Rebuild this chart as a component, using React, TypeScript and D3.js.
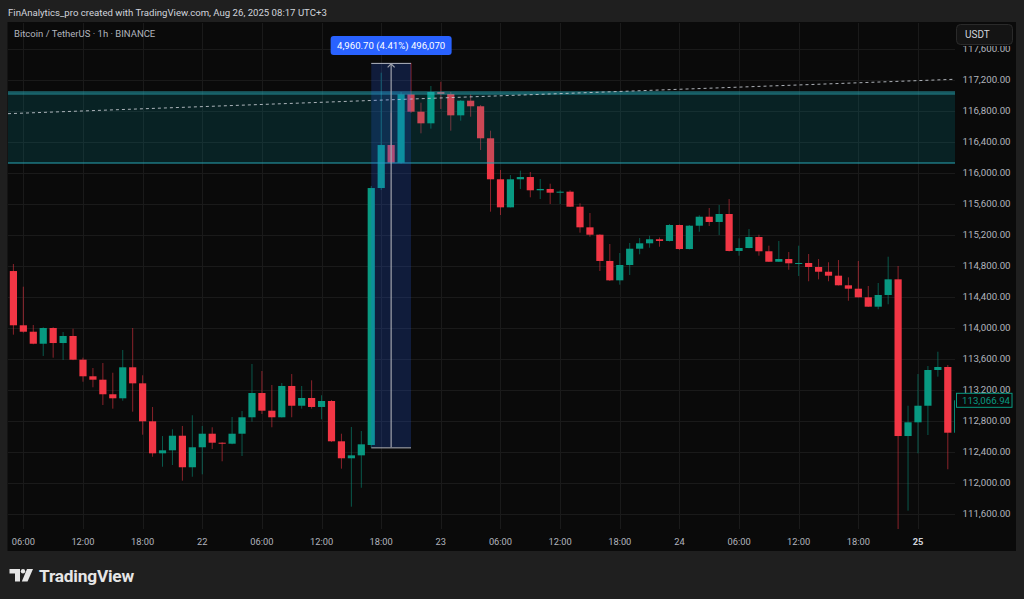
import React from 'react';
import * as d3 from 'd3';

// ---- Data (BTC/USDT 1h, Binance) ----
const opens = [114735,114035,113952,113797,114000,113806,113897,113591,113377,113333,113145,113093,113493,113286,112796,112383,112422,112610,112203,112461,112636,112520,112507,112636,112848,113161,112933,112848,113252,112997,113097,112981,113058,112538,112319,112357,112490,115806,116361,116133,117015,116791,116641,117045,117019,116744,116933,116861,116448,115919,115557,115919,115948,115777,115794,115746,115759,115565,115299,115204,114865,114615,114813,115023,115093,115145,115123,115329,115019,115320,115436,115368,115471,114994,115032,115174,114990,114855,114890,114835,114839,114787,114726,114675,114551,114507,114396,114275,114426,114628,112606,112783,112997,113458,113497,112649];
const highs = [114826,114533,114039,114010,114010,113948,113991,113617,113484,113548,113423,113716,114000,113390,112981,112606,112693,112736,112874,112736,112719,112525,112852,112929,113536,113445,113265,113290,113406,113252,113325,113132,113071,112636,112723,112671,115832,117294,116778,117045,117420.7,116907,117123,117178,117045,116942,117015,116877,116546,116039,115974,116030,116013,115923,115862,115777,115777,115609,115484,115210,115084,114968,115097,115161,115191,115168,115342,115335,115329,115454,115548,115587,115664,115157,115277,115204,115062,115123,114981,115062,114955,114890,114848,114877,114654,114865,114542,114581,114920,114800,112997,113406,113510,113694,113523,113080];
const lows = [113914,113940,113790,113639,113617,113587,113585,113307,113235,113006,112959,113062,112920,112623,112339,112210,112232,112030,112081,112112,112439,112280,112500,112348,112791,112890,112719,112845,112848,112959,112959,112822,112530,112185,111694,111939,112460,115781,116116,116120,116774,116512,116572,116826,116546,116675,116726,116297,115501,115458,115555,115794,115686,115664,115600,115600,115561,115230,115178,114735,114606,114559,114684,114951,115036,115049,115116,115006,115013,115243,115316,115200,114987,114933,115029,114933,114852,114852,114752,114671,114603,114628,114603,114548,114352,114393,114271,114241,114306,111403,111643,112383,112619,113372,112177,112640];
const closes = [114035,113952,113797,114000,113806,113897,113591,113377,113333,113145,113093,113493,113286,112796,112383,112422,112610,112203,112461,112636,112520,112507,112636,112848,113161,112933,112848,113252,112997,113097,112981,113058,112538,112319,112357,112499,115806,116361,116133,117015,116791,116641,117045,117019,116744,116933,116861,116448,115919,115557,115919,115948,115777,115794,115746,115759,115565,115299,115204,114865,114615,114813,115023,115093,115145,115123,115329,115019,115320,115436,115368,115471,114994,115032,115174,114990,114855,114890,114835,114839,114787,114726,114675,114551,114507,114396,114275,114426,114628,112606,112783,112997,113458,113497,112649,113066.94];

const priceTicks = [111600,112000,112400,112800,113200,113600,114000,114400,114800,115200,115600,116000,116400,116800,117200,117600];
const timeTickIndex = [1,7,13,19,25,31,37,43,49,55,61,67,73,79,85,91];
const timeTickLabels = ['06:00','12:00','18:00','22','06:00','12:00','18:00','23','06:00','12:00','18:00','24','06:00','12:00','18:00','25'];
const boldTimeLabels = ['25'];

const zoneBottom = 116129;
const zoneTop = 117045;
const zoneLine = 117020;
const trendIdx = [0, 94];
const trendPrice = [116768, 117206];
const measureIdx = [36, 40];
const measureLow = 112460;
const measureHigh = 117420.7;
const measureLabel = '4,960.70 (4.41%) 496,070';
const lastPrice = 113066.94;

const headerText = 'FinAnalytics_pro created with TradingView.com, Aug 26, 2025 08:17 UTC+3';
const titleText = 'Bitcoin / TetherUS · 1h · BINANCE';

const UP = '#089981';
const DOWN = '#f23645';
const FONT = 'Roboto, "Noto Sans", sans-serif';

export default function App() {
  const W = 1024, H = 599;
  const plotL = 8, plotR = 955, plotT = 23, plotB = 529;
  const x = d3.scaleLinear().domain([0, 94]).range([13.4, 947.8]);
  const y = d3.scaleLinear().domain([111600, 117200]).range([514, 80]);
  const bodyW = 7.2;
  const fmt = d3.format(',.2f');

  const trendSlope = (trendPrice[1] - trendPrice[0]) / (trendIdx[1] - trendIdx[0]);
  const iL = x.invert(plotL), iR = x.invert(plotR);
  const tY = (i: number) => y(trendPrice[0] + (i - trendIdx[0]) * trendSlope);

  const mx0 = x(measureIdx[0]), mx1 = x(measureIdx[1]);
  const mxc = (mx0 + mx1) / 2;
  const myT = y(measureHigh), myB = y(measureLow);
  const lpY = y(lastPrice);

  return (
    <svg width={W} height={H} style={{ position: 'absolute', left: 0, top: 0, display: 'block' }} fontFamily={FONT}>
      <defs>
        <clipPath id="plotClip">
          <rect x={plotL} y={plotT} width={plotR - plotL} height={plotB - plotT} />
        </clipPath>
        <clipPath id="axisClip">
          <rect x={955} y={46} width={61} height={plotB - 46} />
        </clipPath>
      </defs>
      <rect x={0} y={0} width={W} height={H} fill="#1f1f1f" />
      <text x={8} y={12} fontSize={9.6} fill="#d1d4dc" dominantBaseline="central">{headerText}</text>
      {/* chart panel */}
      <rect x={7.5} y={22} width={1016 - 7.5} height={551 - 22} fill="#0a0a0a" />

      {/* grid */}
      <g stroke="#1a1a1a" strokeWidth={1}>
        {priceTicks.map((p) => {
          const yy = Math.round(y(p)) + 0.5;
          return yy > plotT && yy < plotB ? <line key={'h' + p} x1={plotL} x2={plotR} y1={yy} y2={yy} /> : null;
        })}
        {timeTickIndex.map((t) => {
          const xx = Math.round(x(t)) + 0.5;
          return <line key={'v' + t} x1={xx} x2={xx} y1={plotT} y2={plotB} />;
        })}
      </g>

      <g clipPath="url(#plotClip)">
        {/* candles */}
        {opens.map((o, i) => {
          const c = closes[i];
          const col = c >= o ? UP : DOWN;
          const cx = x(i);
          const top = y(Math.max(o, c));
          const bot = y(Math.min(o, c));
          return (
            <g key={'c' + i}>
              <line x1={cx} x2={cx} y1={y(highs[i])} y2={y(lows[i])} stroke={col} strokeOpacity={0.55} strokeWidth={1} />
              <rect x={cx - bodyW / 2} y={top} width={bodyW} height={Math.max(1, bot - top)} fill={col} />
            </g>
          );
        })}

        {/* zone */}
        <rect x={plotL} y={y(zoneTop)} width={plotR - plotL} height={y(zoneBottom) - y(zoneTop)} fill="rgb(0,160,175)" fillOpacity={0.16} />
        <line x1={plotL} x2={plotR} y1={y(zoneTop)} y2={y(zoneTop)} stroke="#2fb5c4" strokeWidth={0.8} />
        <line x1={plotL} x2={plotR} y1={y(zoneLine)} y2={y(zoneLine)} stroke="#2fb5c4" strokeWidth={0.8} />
        <line x1={plotL} x2={plotR} y1={y(zoneBottom)} y2={y(zoneBottom)} stroke="#26a6b5" strokeWidth={1} />

        {/* dashed trend */}
        <line x1={plotL} x2={plotR} y1={tY(iL)} y2={tY(iR)} stroke="#c8ccd4" strokeWidth={1} strokeDasharray="3,3" strokeOpacity={0.85} />

        {/* measure */}
        <rect x={mx0} y={myT} width={mx1 - mx0} height={myB - myT} fill="rgb(41,98,255)" fillOpacity={0.2} />
        <line x1={mx0} x2={mx1} y1={myT + 0.5} y2={myT + 0.5} stroke="#b2b5be" strokeWidth={1} />
        <line x1={mx0} x2={mx1} y1={myB + 0.5} y2={myB + 0.5} stroke="#b2b5be" strokeWidth={1} />
        <line x1={mxc} x2={mxc} y1={myT + 1} y2={myB} stroke="#a0a4ae" strokeWidth={1.2} />
        <path d={`M${mxc - 3.5},${myT + 4.5} L${mxc},${myT + 1} L${mxc + 3.5},${myT + 4.5}`} fill="none" stroke="#a0a4ae" strokeWidth={1.2} />
      </g>

      {/* measure label */}
      <rect x={mxc - 60.5} y={36} width={121} height={19} rx={3} fill="#2962ff" />
      <text x={mxc} y={45.5} fontSize={9.6} fill="#ffffff" textAnchor="middle" dominantBaseline="central">{measureLabel}</text>

      {/* title */}
      <text x={14} y={33} fontSize={9.5} fill="#b2b5be" dominantBaseline="central">{titleText}</text>

      {/* price axis */}
      <g clipPath="url(#axisClip)">
        {priceTicks.map((p) => (
          <text key={'pl' + p} x={962.5} y={y(p) - 1} fontSize={9.7} fill="#b2b5be" dominantBaseline="central">{fmt(p)}</text>
        ))}
      </g>
      <rect x={956.5} y={24.5} width={56} height={20} rx={4} fill="#141414" stroke="#2a2a2a" />
      <text x={965} y={34.5} fontSize={10} fill="#d1d4dc" dominantBaseline="central">USDT</text>

      {/* last price */}
      <rect x={956.5} y={lpY - 7} width={55.5} height={14} fill="#0a0a0a" stroke={UP} strokeWidth={1} />
      <text x={962} y={lpY} fontSize={9.7} fill={UP} dominantBaseline="central">{fmt(lastPrice)}</text>

      {/* time axis */}
      {timeTickIndex.map((t, k) => {
        const lbl = timeTickLabels[k];
        const bold = boldTimeLabels.includes(lbl);
        return (
          <text key={'tl' + t} x={x(t)} y={541} fontSize={9.3} fill={bold ? '#d1d4dc' : '#b2b5be'} fontWeight={bold ? 700 : 400} textAnchor="middle" dominantBaseline="central">{lbl}</text>
        );
      })}

      {/* TradingView logo */}
      <g fill="#e6e6e6">
        <path d="M9.5,569 H20 V581.5 H15 V573.5 H9.5 Z" />
        <circle cx={23} cy={571.2} r={2.2} />
        <path d="M27,569 H33 L27.5,581.5 H21.8 Z" />
        <text x={39} y={576} fontSize={17.3} fontWeight={700} dominantBaseline="central" letterSpacing={-0.2}>TradingView</text>
      </g>
    </svg>
  );
}
